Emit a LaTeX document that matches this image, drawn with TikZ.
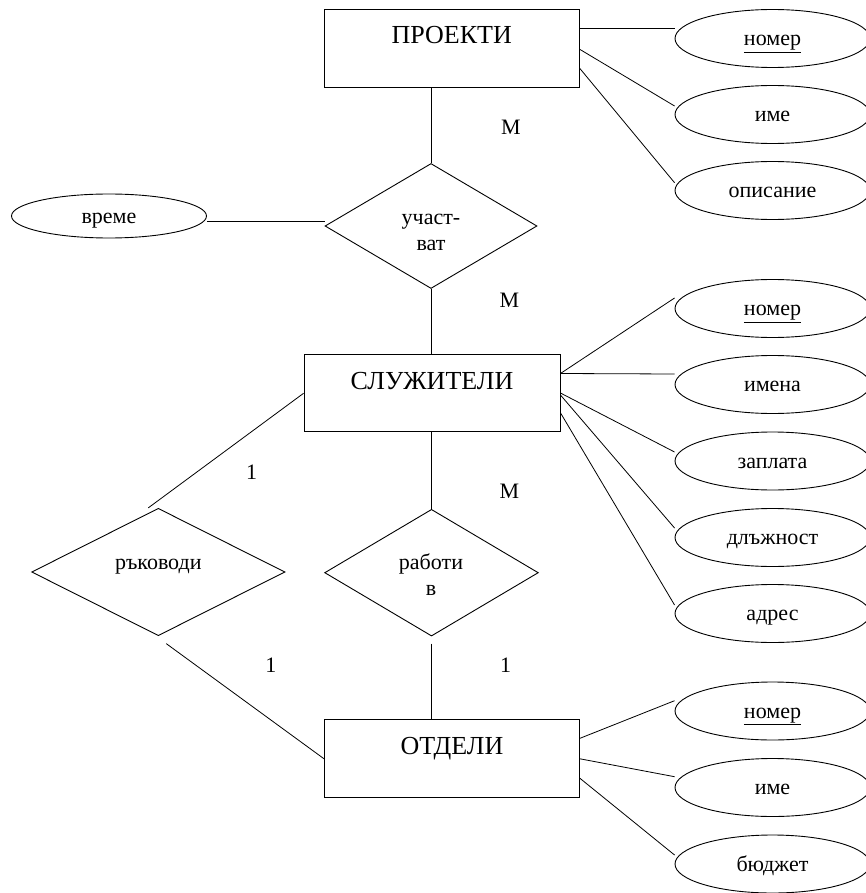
\documentclass[tikz,border=0pt]{standalone}
\usepackage{fontspec}
\setmainfont{Liberation Serif}
\usetikzlibrary{shapes.geometric}
\begin{document}
\begin{tikzpicture}[x=1pt,y=-1pt,
  entity/.style={draw, rectangle, line width=0.9pt, inner sep=0pt, minimum width=255pt, minimum height=78pt,
    font=\fontsize{26}{30}\selectfont, text height=18.2pt, text depth=26.8pt},
  attr/.style={draw, ellipse, line width=0.9pt, inner sep=0pt, minimum width=195pt, minimum height=58pt,
    font=\fontsize{22}{26}\selectfont, text height=20.4pt, text depth=5.5pt},
  rel/.style={draw, diamond, line width=0.9pt, inner sep=0pt},
  reltext/.style={font=\fontsize{22}{26}\selectfont, align=center, inner sep=0pt},
  card/.style={font=\fontsize{22}{26}\selectfont, inner sep=0pt, text height=14.5pt, text depth=0pt},
  conn/.style={draw, line width=0.8pt}
]
\useasboundingbox (0,0) rectangle (865,893);

% entities
\node[entity] (P) at (451.75,48.3) {ПРОЕКТИ};
\node[entity, minimum width=256pt, minimum height=77pt] (S) at (432,393.3) {СЛУЖИТЕЛИ};
\node[entity] (O) at (452,758.8) {ОТДЕЛИ};

% relationships
\node[rel, minimum width=212pt, minimum height=125pt] (uch) at (431,226) {};
\node[rel, minimum width=253.3pt, minimum height=127.4pt] (ruk) at (158.3,572) {};
\node[rel, minimum width=213.7pt, minimum height=126.7pt] (rab) at (431.5,572.7) {};
\node[reltext] (uchT) at (431,232) {участ-\\ват};
\node[reltext, text height=20.4pt, text depth=5.5pt] (rukT) at (158.3,561.7) {ръководи};
\node[reltext] (rabT) at (431,575) {работи\\в};

% attributes
\node[attr] (pnom) at (772.5,38.5) {\underline{номер}};
\node[attr] (pime) at (772.5,114.5) {име};
\node[attr] (popis) at (772.5,190.5) {описание};
\node[attr, minimum height=44pt] (vreme) at (109,216) {време};

\node[attr] (snom) at (772.5,308.5) {\underline{номер}};
\node[attr] (sime) at (772.5,384.5) {имена};
\node[attr] (szap) at (772.5,461) {заплата};
\node[attr] (sdlj) at (772.5,537.5) {длъжност};
\node[attr] (sadr) at (772.5,613.5) {адрес};

\node[attr] (onom) at (772.5,711) {\underline{номер}};
\node[attr] (oime) at (772.5,787.5) {име};
\node[attr] (obud) at (772.5,864) {бюджет};

% cardinalities
\node[card] (m1) at (511,127.5) {M};
\node[card] (m2) at (509.4,300.7) {M};
\node[card] (m3) at (509.4,491.7) {M};
\node[card] (c1) at (251.5,472.5) {1};
\node[card] (c2) at (270.8,665) {1};
\node[card] (c3) at (505.7,665) {1};

% connectors
\draw[conn] (uch.north) -- (uch.north |- P.south);
\draw[conn] (uch.south) -- (uch.south |- S.north);
\draw[conn] ([yshift=-5pt]vreme.east) -- ([yshift=-5pt]vreme.east -| uch.west);
\draw[conn] (rab.north) -- (rab.north |- S.south);
\draw[conn] ([yshift=-7pt]rab.south) -- (rab.south |- O.north);
\draw[conn] (S.west) -- ([xshift=-10pt]ruk.north);
\draw[conn] ([xshift=8pt,yshift=-7.5pt]ruk.south) -- (O.west);

\draw[conn] ([yshift=20pt]P.east) -- ([yshift=10.2pt]pnom.west);
\draw[conn] ([yshift=-1pt]P.east) -- ([yshift=8.5pt]pime.west);
\draw[conn] ([yshift=-20pt]P.east) -- ([yshift=7.8pt]popis.west);

\draw[conn] ([yshift=19.8pt]S.east) -- ([yshift=10.5pt]snom.west);
\draw[conn] ([yshift=19.8pt]S.east) -- ([yshift=10.5pt]sime.west);
\draw[conn] ([yshift=0.3pt]S.east) -- ([yshift=9pt]szap.west);
\draw[conn] ([yshift=-1.7pt]S.east) -- ([yshift=9.5pt]sdlj.west);
\draw[conn] ([yshift=-19.5pt]S.east) -- ([yshift=8.5pt]sadr.west);

\draw[conn] ([yshift=20.5pt]O.east) -- ([yshift=10.3pt]onom.west);
\draw[conn] (O.east) -- ([yshift=10.8pt]oime.west);
\draw[conn] ([yshift=-19.5pt]O.east) -- ([yshift=9pt]obud.west);
\end{tikzpicture}
\end{document}
